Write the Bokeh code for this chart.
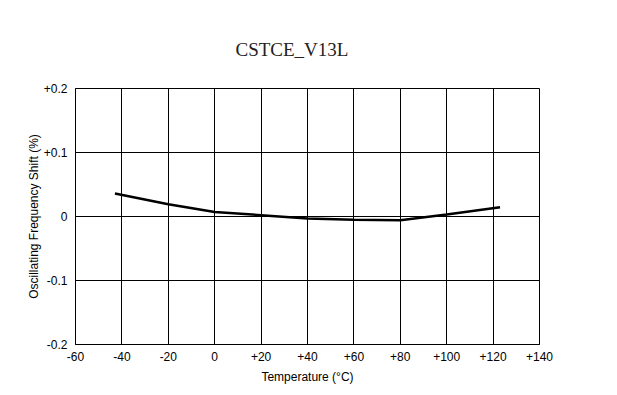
from bokeh.plotting import figure
from bokeh.models import FixedTicker, Range1d
from bokeh.embed import file_html
from bokeh.resources import INLINE

# Data
temperature = [-43, -20, 0, 20, 40, 60, 80, 100, 123]
freq_shift = [0.036, 0.019, 0.007, 0.002, -0.003, -0.005, -0.006, 0.003, 0.0145]

x_ticks = [-60, -40, -20, 0, 20, 40, 60, 80, 100, 120, 140]
x_tick_labels = ["-60", "-40", "-20", "0", "+20", "+40", "+60", "+80", "+100", "+120", "+140"]
y_ticks = [-0.2, -0.1, 0.0, 0.1, 0.2]
y_tick_labels = ["-0.2", "-0.1", "0", "+0.1", "+0.2"]

p = figure(
    frame_width=464, frame_height=256,
    output_backend="svg", toolbar_location=None,
    x_range=Range1d(-60, 140), y_range=Range1d(-0.2, 0.2),
    min_border_left=75, min_border_top=88, min_border_right=60, min_border_bottom=40,
    title="CSTCE_V13L",
)
p.background_fill_color = "white"
p.border_fill_color = "white"
p.outline_line_color = "black"
p.outline_line_width = 1

p.title.text_font = "Liberation Serif"
p.title.text_font_size = "19px"
p.title.text_font_style = "normal"
p.title.text_color = "#222222"
p.title.align = "left"
p.title.offset = 160
p.title.standoff = 57

p.line(temperature, freq_shift, line_color="black", line_width=2.5)

for ax in (p.xaxis[0], p.yaxis[0]):
    ax.axis_line_color = "black"
    ax.major_tick_line_color = None
    ax.minor_tick_line_color = None
    ax.major_label_text_font = "Liberation Sans"
    ax.major_label_text_font_size = "12px"
    ax.major_label_text_color = "black"
    ax.axis_label_text_font = "Liberation Sans"
    ax.axis_label_text_font_size = "12px"
    ax.axis_label_text_font_style = "normal"
    ax.axis_label_text_color = "black"

p.xaxis.ticker = FixedTicker(ticks=x_ticks)
p.xaxis.major_label_overrides = {t: l for t, l in zip(x_ticks, x_tick_labels)}
p.xaxis.axis_label = "Temperature (°C)"
p.xaxis.major_label_standoff = 1
p.xaxis.axis_label_standoff = 6

p.yaxis.ticker = FixedTicker(ticks=y_ticks)
p.yaxis.major_label_overrides = {t: l for t, l in zip(y_ticks, y_tick_labels)}
p.yaxis.axis_label = "Oscillating Frequency Shift (%)"
p.yaxis.major_label_standoff = 2
p.yaxis.axis_label_standoff = 0

p.xgrid.grid_line_color = "black"
p.ygrid.grid_line_color = "black"
p.xgrid.grid_line_width = 1
p.ygrid.grid_line_width = 1
p.xgrid.ticker = FixedTicker(ticks=x_ticks)
p.ygrid.ticker = FixedTicker(ticks=y_ticks)

open("out.html", "w").write(file_html(p, INLINE))
